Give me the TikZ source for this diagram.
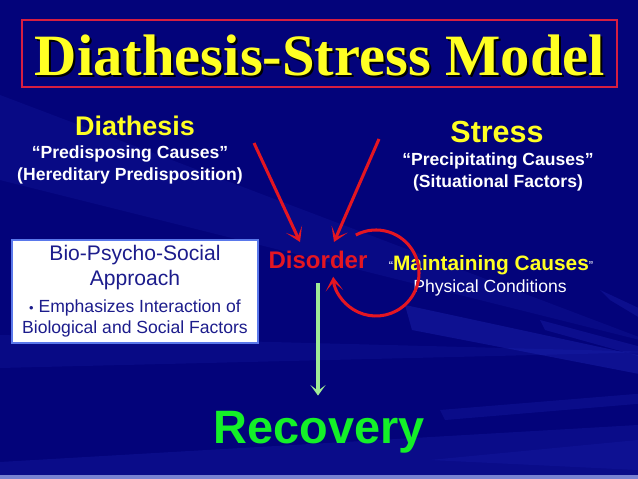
\documentclass[tikz,border=0pt]{standalone}
\usepackage{fontspec}
\setmainfont{Liberation Sans}
\newfontfamily\titlefont{Liberation Serif}
\usepackage{xcolor}
\usetikzlibrary{arrows.meta,positioning}
\definecolor{bgblue}{RGB}{3,3,122}
\definecolor{streak}{RGB}{40,50,200}
\definecolor{strip}{RGB}{120,130,210}
\definecolor{framered}{RGB}{215,30,65}
\definecolor{ylw}{RGB}{255,255,35}
\definecolor{arrred}{RGB}{228,22,34}
\definecolor{boxtext}{RGB}{28,28,140}
\definecolor{boxline}{RGB}{90,120,235}
\definecolor{grn}{RGB}{20,240,40}
\definecolor{lgrn}{RGB}{160,235,150}

\begin{document}
\begin{tikzpicture}[x=0.03cm,y=-0.03cm,
  txt/.style={inner sep=0pt,align=center},
  hd/.style={txt,text=ylw,font=\bfseries\fontsize{23}{26}\selectfont},
  sub/.style={txt,text=white,font=\bfseries\fontsize{15}{18.5}\selectfont},
  biobox/.style={draw=boxline,line width=1.2pt,fill=white,text=boxtext,align=center,
    minimum width=210pt,minimum height=88pt,inner sep=0pt,font=\fontsize{18}{21.5}\selectfont},
  redarr/.style={-{Stealth[length=12pt,width=15pt,inset=7.5pt]},arrred,line width=2.6pt},
  grnarr/.style={-{Stealth[length=9pt,width=13pt,inset=5pt]},lgrn,line width=2.8pt}]
  % background
  \useasboundingbox (0,0) rectangle (638,479);
  \clip (0,0) rectangle (638,479);
  \fill[bgblue] (0,0) rectangle (638,479);
  \fill[streak,opacity=.15] (0,95) -- (0,180) -- (660,345) -- cycle;
  \fill[streak,opacity=.15] (0,335) -- (0,368) -- (660,352) -- cycle;
  \fill[streak,opacity=.3] (405,305) -- (412,330) -- (660,378) -- (660,360) -- cycle;
  \fill[streak,opacity=.25] (540,320) -- (545,330) -- (660,362) -- (660,352) -- cycle;
  \fill[streak,opacity=.2] (0,479) -- (0,462) -- (638,425) -- (638,479) -- cycle;
  \fill[streak,opacity=.2] (440,410) -- (445,420) -- (660,402) -- (660,392) -- cycle;
  \fill[streak,opacity=.25] (600,290) -- (610,300) -- (660,330) -- (660,318) -- cycle;
  \fill[streak,opacity=.15] (430,460) -- (638,440) -- (638,470) -- cycle;
  \fill[strip] (0,475) rectangle (638,479);
  % title
  \node[txt,text=black,font=\titlefont\bfseries\fontsize{50}{56}\selectfont] (title-shadow) at (322,57) {Diathesis-Stress Model};
  \node[txt,text=ylw,font=\titlefont\bfseries\fontsize{50}{56}\selectfont] (title) at (320,55) {Diathesis-Stress Model};
  \node[draw=framered,line width=1.6pt,minimum width=508pt,minimum height=57pt] (title-frame) at (319.5,53.5) {};
  % causes
  \node[hd] (diathesis) at (135,126) {Diathesis};
  \node[sub] (dia-sub) at (130,165) {“Predisposing Causes”\\(Hereditary Predisposition)};
  \node[hd,font=\bfseries\fontsize{26}{30}\selectfont] (stress) at (497,132) {Stress};
  \node[sub] (str-sub) at (498,172) {“Precipitating Causes”\\(Situational Factors)};
  \node[biobox] (bio) at (135,291.5) {Bio-Psycho-Social\\Approach\\[1.5pt]
    \fontsize{15}{18}\selectfont{\fontsize{11}{11}\selectfont\textbullet} Emphasizes Interaction of\\[-3.5pt]
    \fontsize{15}{18}\selectfont Biological and Social Factors};
  \node[txt,text=arrred,font=\bfseries\fontsize{20.5}{24}\selectfont] (disorder) at (318,260) {Disorder};
  \node[txt,text=ylw,font=\bfseries\fontsize{17.8}{21}\selectfont] (maint) at (491,265)
    {\textcolor{white}{\mdseries\fontsize{11}{11}\selectfont“}Maintaining Causes\textcolor{white}{\mdseries\fontsize{11}{11}\selectfont”}};
  \node[txt,text=white,font=\fontsize{15}{18}\selectfont] (phys) at (490,288) {Physical Conditions};
  \node[txt,text=grn,font=\bfseries\fontsize{40}{46}\selectfont] (recovery) at (319.5,432) {Recovery};
  % arrows
  \coordinate (dia-out) at (254,143);
  \coordinate (str-out) at (379,139);
  \coordinate (dis-in1) at (300,242);
  \coordinate (dis-in2) at (334,242);
  \coordinate (loop-c) at (376,273);
  \draw[redarr] (dia-out) -- (dis-in1);
  \draw[redarr] (str-out) -- (dis-in2);
  \draw[redarr] ([shift={(-118:43)}]loop-c) arc[start angle=-118,end angle=175,radius=43];
  \draw[grnarr,shorten <=12pt,shorten >=13pt] (disorder.south) -- (disorder.south |- recovery.north);
\end{tikzpicture}
\end{document}
